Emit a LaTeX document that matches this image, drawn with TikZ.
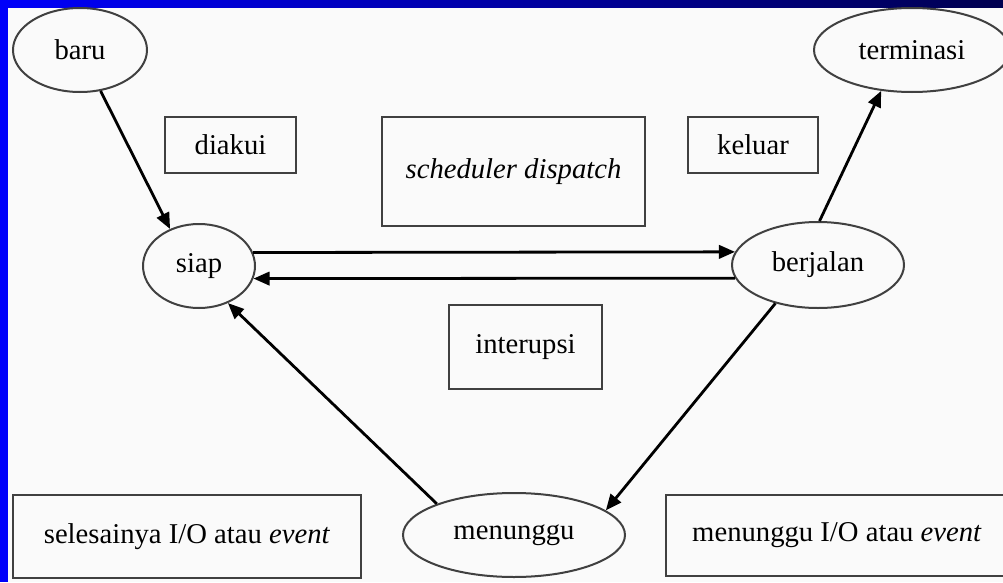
\documentclass[tikz,border=0pt]{standalone}
\usepackage{fontspec}
\setmainfont{Liberation Serif}
\usetikzlibrary{shapes.geometric,arrows.meta}
\definecolor{barblue}{RGB}{0,0,250}
\definecolor{barnavy}{RGB}{0,0,80}
\definecolor{paper}{RGB}{250,250,250}
\begin{document}
\begin{tikzpicture}[x=0.75pt,y=-0.75pt,
  state/.style={ellipse,draw=black!75,line width=1.5pt,inner sep=0pt},
  lbl/.style={rectangle,draw=black!75,line width=2.1pt,inner sep=0pt},
  arr/.style={line width=2.1pt,-{Triangle[length=12pt,width=10pt]}},
  font=\fontsize{21.5}{25}\selectfont]
\useasboundingbox (0,0) rectangle (1003,582);
\clip (0,0) rectangle (1003,582);
\fill[paper] (0,0) rectangle (1003,582);
\shade[left color=barblue,right color=barnavy] (0,0) rectangle (1003,7);
\fill[barblue] (0,0) rectangle (8,582);

% states
\node[state,minimum width=100.5pt,minimum height=63pt] (baru) at (80,50) {baru};
\node[state,minimum width=84pt,minimum height=63pt] (siap) at (199,266) {siap};
\node[state,minimum width=147pt,minimum height=63pt] (terminasi) at (912,50) {terminasi};
\node[state,minimum width=129pt,minimum height=64.5pt] (berjalan) at (818,265) {berjalan};
\node[state,minimum width=166.5pt,minimum height=63pt] (menunggu) at (514,535) {menunggu};

% labels
\node[lbl,minimum width=98.25pt,minimum height=42pt] (diakui) at (230.5,145) {diakui};
\node[lbl,minimum width=97.5pt,minimum height=42pt] (keluar) at (753,145) {keluar};
\node[lbl,minimum width=197.25pt,minimum height=81.75pt] (sched) at (513.5,171.5) {\itshape scheduler dispatch};
\node[lbl,minimum width=114.75pt,minimum height=63pt] (interupsi) at (525.5,347) {interupsi};
\node[lbl,minimum width=261pt,minimum height=62.25pt] (selesai) at (187,536.5) {selesainya I/O atau \textit{event}};
\node[lbl,minimum width=256.5pt,minimum height=60.75pt] (tunggu) at (837,535.5) {menunggu I/O atau \textit{event}};

% transitions
\draw[arr] (baru) -- (siap.128);
\draw[arr] (siap.14) -- (berjalan.171);
\draw[arr] (berjalan.189) -- (siap.-13);
\draw[arr] (berjalan.88) -- (terminasi.233);
\draw[arr] (berjalan.222) -- (menunggu.15);
\draw[arr] (menunggu.158) -- (siap.308);
\end{tikzpicture}
\end{document}
